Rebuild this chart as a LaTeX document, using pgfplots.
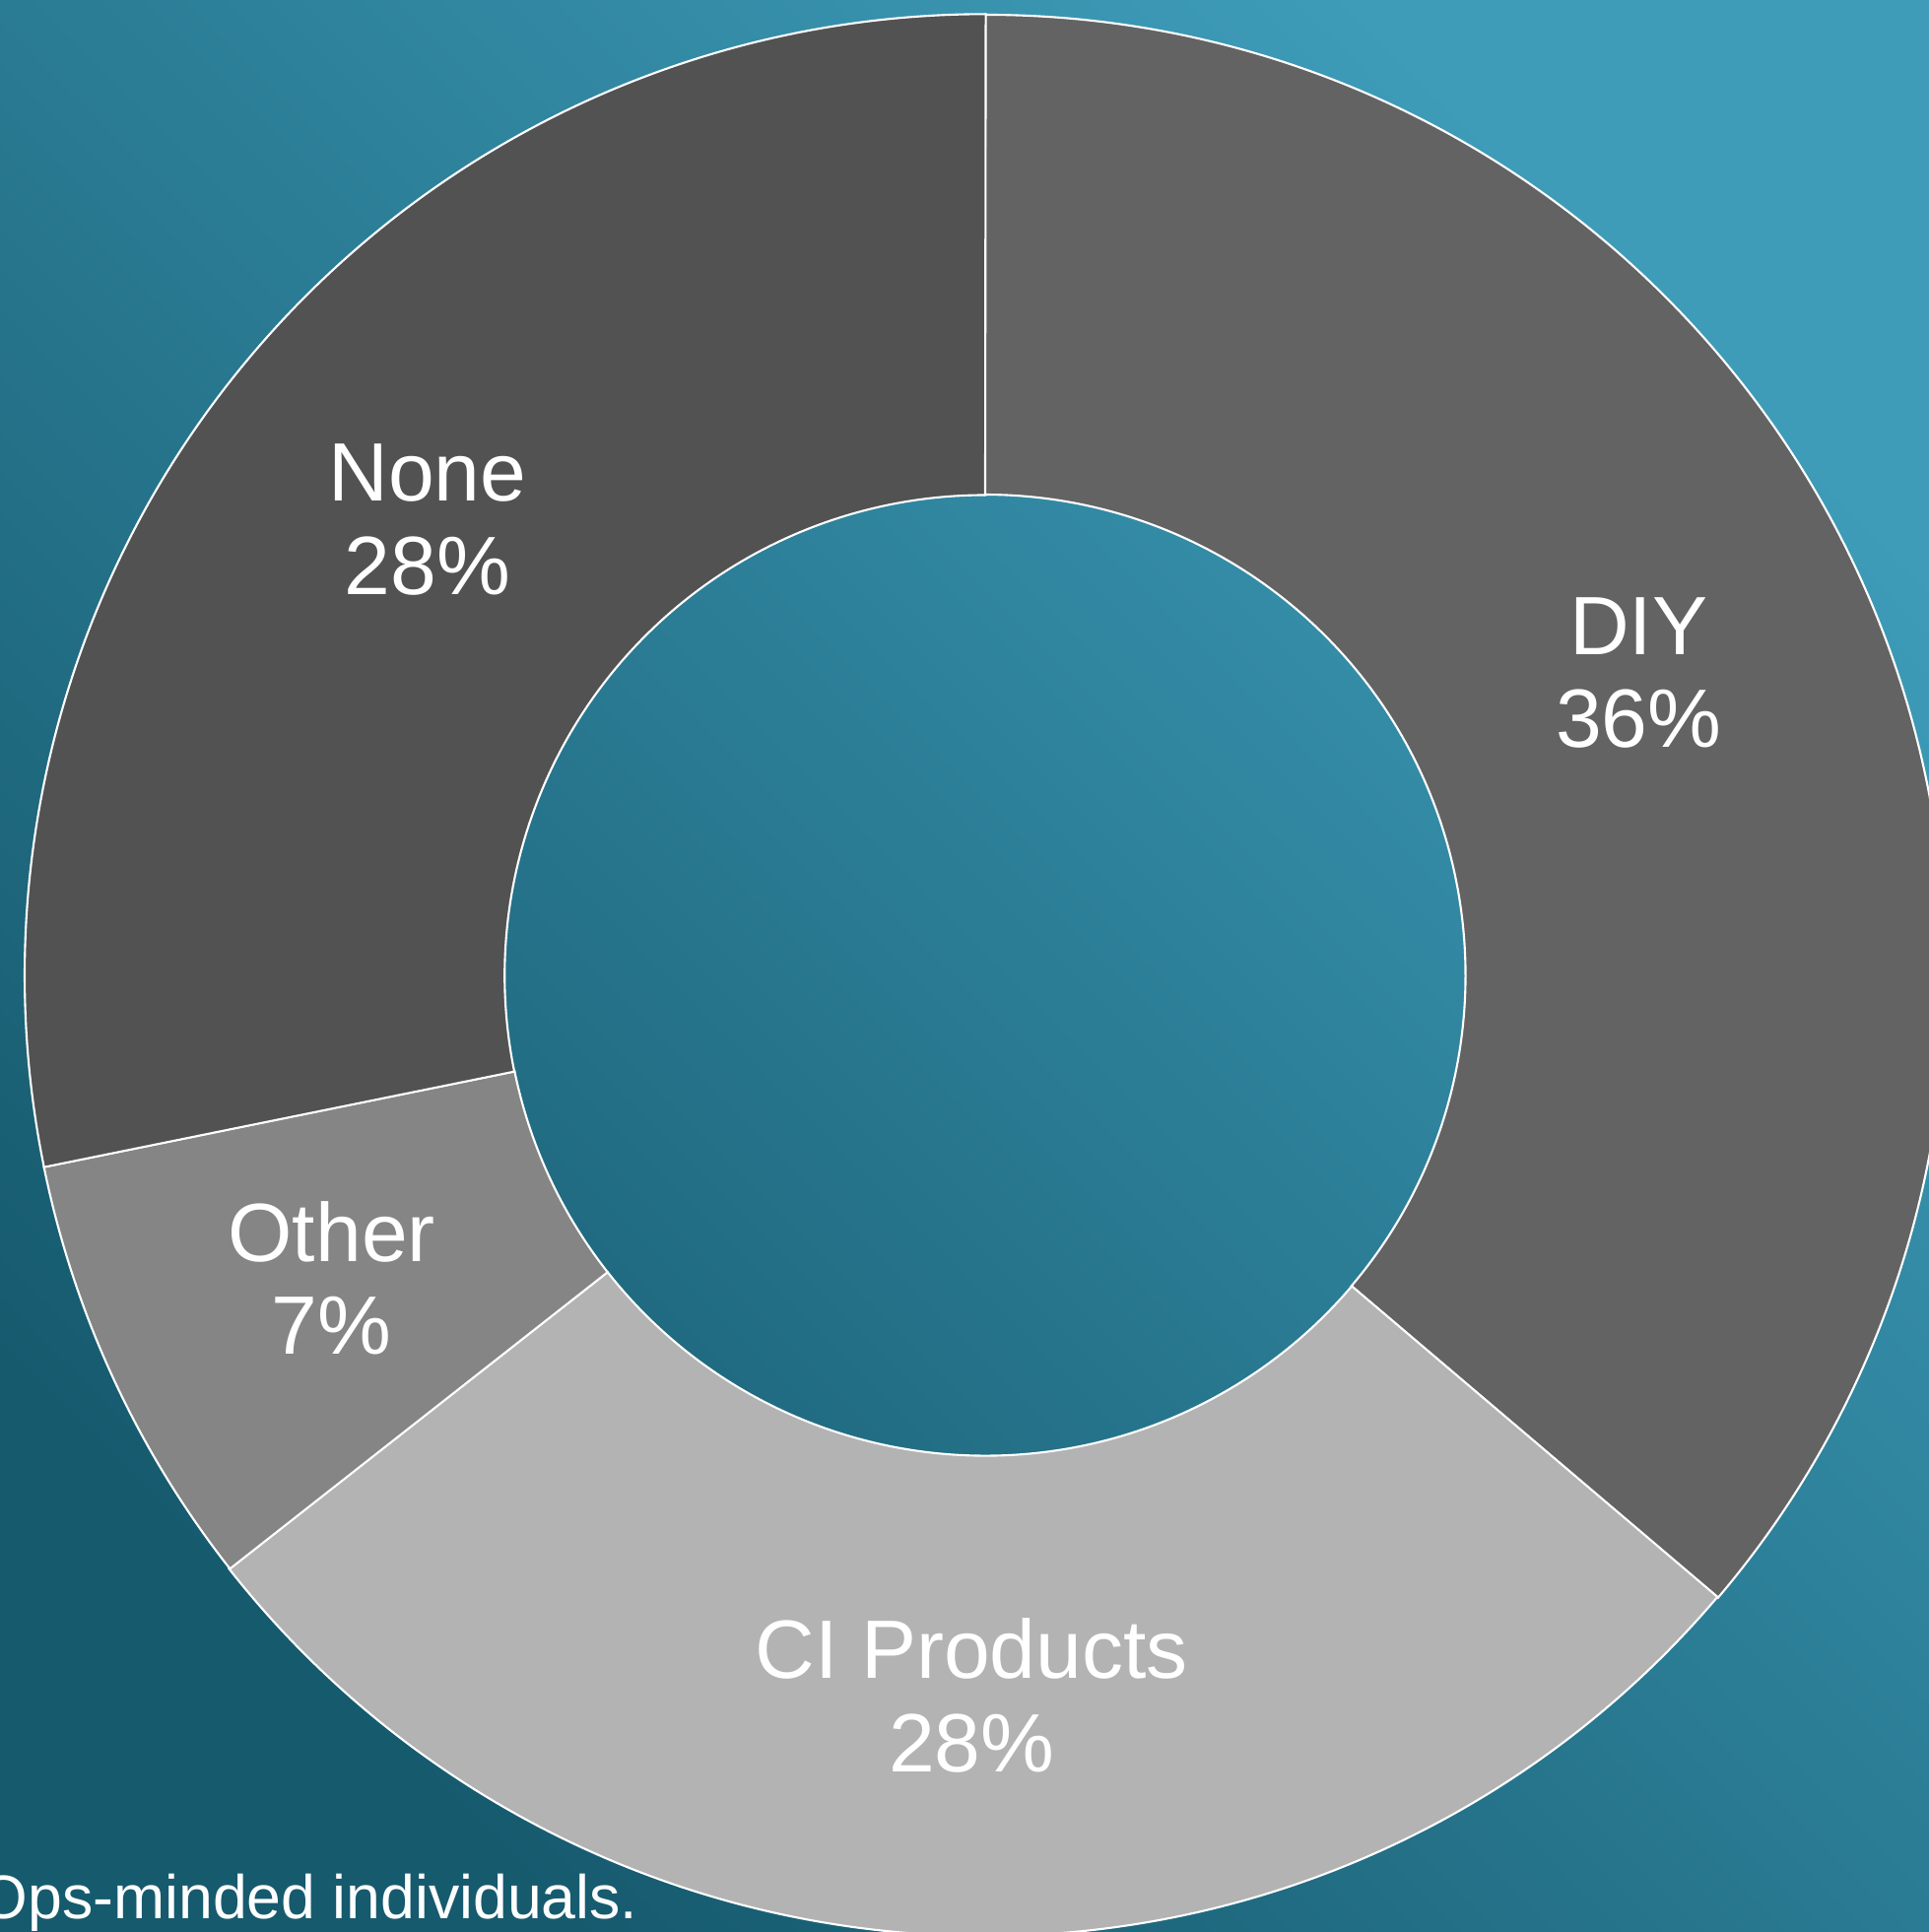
\documentclass[border=0pt]{standalone}
\usepackage{pgfplots}
\usepackage{pgfplotstable}
\pgfplotsset{compat=1.18}
\usepackage{fontspec}
\setmainfont{Liberation Sans}

\definecolor{bgdark}{HTML}{165A6E}
\definecolor{bglight}{HTML}{3E9CB9}
\definecolor{sliceA}{HTML}{636363}
\definecolor{sliceB}{HTML}{B3B3B3}
\definecolor{sliceC}{HTML}{858585}
\definecolor{sliceD}{HTML}{525252}

% share of each slice, in percent, clockwise from 12 o'clock
\pgfplotstableread[col sep=comma]{
label,value
DIY,36.2
CI Products,28.2
Other,7.4
None,28.2
}\piedata

% ring radii in axis units (1 unit = 0.01cm)
\def\Rout{975}
\def\Rin{487.5}
\def\Rmid{731}

% #1 start angle, #2 end angle, #3 colour, #4 name, #5 value
\newcommand\slice[5]{%
  \filldraw[fill=#3, draw=white, line width=0.6pt]
    (axis cs:{\Rout*cos(#1)},{\Rout*sin(#1)})
    arc[start angle=#1, end angle=#2, radius=9.75cm]
    -- (axis cs:{\Rin*cos(#2)},{\Rin*sin(#2)})
    arc[start angle=#2, end angle=#1, radius=4.875cm] -- cycle;
  \node[text=white, align=center, font=\fontsize{23.9pt}{26.8pt}\selectfont]
    at (axis cs:{\Rmid*cos((#1+#2)/2)},{\Rmid*sin((#1+#2)/2)})
    {#4\\\pgfmathprintnumber[fixed,precision=0,assume math mode=true]{#5}\%};
}

\begin{document}
\begin{tikzpicture}
\pgfplotstablegetelem{0}{value}\of\piedata\let\vA\pgfplotsretval
\pgfplotstablegetelem{1}{value}\of\piedata\let\vB\pgfplotsretval
\pgfplotstablegetelem{2}{value}\of\piedata\let\vC\pgfplotsretval
\pgfplotstablegetelem{3}{value}\of\piedata\let\vD\pgfplotsretval
\pgfmathsetmacro\aA{90}
\pgfmathsetmacro\aB{\aA-3.6*\vA}
\pgfmathsetmacro\aC{\aB-3.6*\vB}
\pgfmathsetmacro\aD{\aC-3.6*\vC}
\pgfmathsetmacro\aE{\aD-3.6*\vD}

\begin{axis}[
  x=0.01cm, y=0.01cm,
  xmin=-1000, xmax=958,
  ymin=-971, ymax=990,
  hide axis,
  clip=true,
  axis background/.style={bottom color=bgdark, top color=bglight,
    shading angle=-45},
]
\slice{\aA}{\aB}{sliceA}{DIY}{\vA}
\slice{\aB}{\aC}{sliceB}{CI Products}{\vB}
\slice{\aC}{\aD}{sliceC}{Other}{\vC}
\slice{\aD}{\aE}{sliceD}{None}{\vD}
\node[anchor=base east, text=white, font=\fontsize{17.8pt}{20pt}\selectfont]
  at (axis cs:-340,-957) {DevOps-minded individuals.};
\end{axis}
\pgfresetboundingbox
\useasboundingbox (current axis.south west) rectangle (current axis.north east);
\end{tikzpicture}
\end{document}
